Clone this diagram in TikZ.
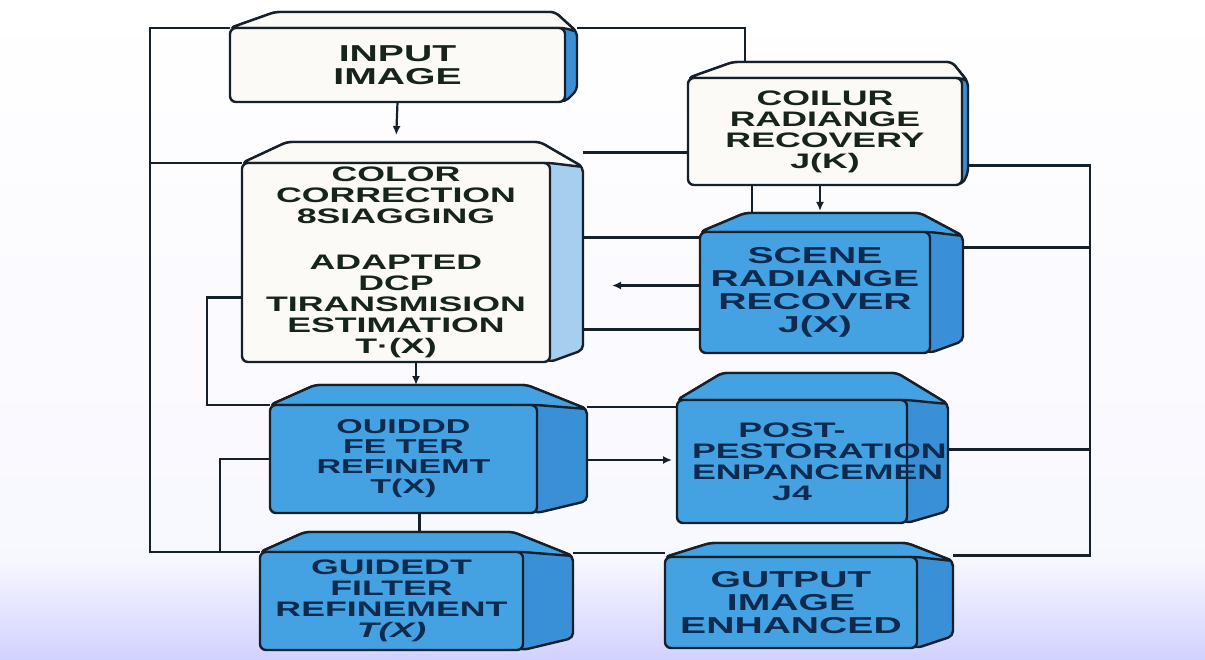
\documentclass[tikz,border=0pt]{standalone}
\usepackage{fontspec}
\usepackage{tikz}
\usetikzlibrary{arrows.meta,calc}
\newfontfamily\boxfont[FakeStretch=1.7]{Liberation Sans}

\definecolor{edge}{HTML}{16202A}
\definecolor{paperwhite}{HTML}{FBFAF7}
\definecolor{blueface}{HTML}{45A2E2}
\definecolor{blueside}{HTML}{3A90D6}
\definecolor{paleside}{HTML}{A6CEEF}
\definecolor{navy}{HTML}{0E2A4E}
\definecolor{ink}{HTML}{16241C}

\pgfdeclarelayer{bg}
\pgfdeclarelayer{background}
\pgfsetlayers{bg,background,main}

% top and side faces behind a front node: name, depth, rise, side colour, top colour
\newcommand\solid[5]{%
  \begin{pgfonlayer}{background}
    \filldraw[boxline, fill=#4] (#1.north west) -- ++(45,-#3) -- ($(#1.north east)+(-10,-#3)$)
      -- ($(#1.north east)+(#2,4)$) -- ($(#1.south east)+(#2,-12)$) -- (#1.south east) -- cycle;
    \filldraw[boxline, fill=#5] (#1.north west) -- ++(45,-#3) -- ($(#1.north east)+(-10,-#3)$)
      -- ($(#1.north east)+(#2,4)$) -- (#1.north east) -- cycle;
  \end{pgfonlayer}
  \coordinate (#1-top) at ($(#1.north)+(0,-#3)$);
  \coordinate (#1-side) at ($(#1.east)+(#2,0)$);
}

\begin{document}
\begin{tikzpicture}[
    x=1pt, y=-1pt,
    boxline/.style={draw=edge, line width=2.4pt, rounded corners=5pt},
    face/.style={draw=edge, line width=2.4pt, rounded corners=6pt, outer sep=0pt, inner sep=0pt, align=center},
    paper/.style={face, fill=paperwhite, text=ink},
    bluebox/.style={face, fill=blueface, text=navy},
    txt/.style={font=\boxfont\bfseries\fontsize{#1}{#1}\selectfont},
    wire/.style={draw=edge, line width=2.2pt},
    arrow/.style={wire, -{Latex[length=9pt,width=8pt]}}
  ]
  \useasboundingbox (0,0) rectangle (1205,660);
  \begin{pgfonlayer}{bg}
    \shade[top color=white, bottom color=black!2!blue!3] (0,0) rectangle (1205,560);
    \shade[top color=black!2!blue!3, bottom color=blue!18] (0,560) rectangle (1205,660);
  \end{pgfonlayer}

  \node[paper, txt=23, minimum width=335pt, minimum height=74pt] (input) at (397.5,65) {INPUT\\IMAGE};
  \node[paper, txt=21, minimum width=308pt, minimum height=199pt] (color) at (396,262.5)
    {COLOR\\CORRECTION\\8SIAGGING\\[25pt]ADAPTED\\DCP\\TIRANSMISION\\ESTIMATION\\T·(X)};
  \node[paper, txt=21, minimum width=274pt, minimum height=107pt] (coilur) at (825,131.5)
    {COILUR\\RADIANGE\\RECOVERY\\J(K)};
  \node[bluebox, txt=23, minimum width=230pt, minimum height=121pt] (scene) at (815,292.5)
    {SCENE\\RADIANGE\\RECOVER\\J(X)};
  \node[bluebox, txt=20, minimum width=267pt, minimum height=108pt] (guided) at (403.5,459)
    {OUIDDD\\FE TER\\REFINEMT\\T(X)};
  \node[bluebox, txt=21, minimum width=230pt, minimum height=123pt, text width=200pt] (post) at (792,461.5)
    {POST-\\PESTORATION\\ENPANCEMEN\\J4};
  \node[bluebox, txt=21, minimum width=263pt, minimum height=98pt] (guidedt) at (391.5,601)
    {GUIDEDT\\FILTER\\REFINEMENT\\\textit{T(X)}};
  \node[bluebox, txt=23, minimum width=252pt, minimum height=91pt] (output) at (791,602.5)
    {GUTPUT\\IMAGE\\ENHANCED};

  \solid{input}{12}{16}{blueside}{paperwhite}
  \solid{color}{33}{21}{paleside}{paperwhite}
  \solid{coilur}{6}{16}{blueside}{paperwhite}
  \solid{scene}{33}{19}{blueside}{blueface}
  \solid{guided}{50}{20}{blueside}{blueface}
  \solid{post}{41}{27}{blueside}{blueface}
  \solid{guidedt}{50}{20}{blueside}{blueface}
  \solid{output}{36}{14}{blueside}{blueface}

  \coordinate (wbus) at (150,300);
  \coordinate (ebus) at (1090,300);
  \coordinate (tbus) at (745,28);
  \coordinate (jog) at (207,350);
  \coordinate (jog2) at (220,500);

  % left side
  \draw[wire] (input.north west) -| (wbus) |- (guidedt.north west);
  \draw[wire] (wbus |- color.north west) -- (color.north west);
  \draw[wire] ($(color.west)+(0,35)$) -| (jog) |- (guided.north west);
  \draw[wire] (jog2 |- guidedt.north west) |- (guided.west);

  % top
  \draw[wire] (input-side |- input.north) -- (tbus) -- (tbus |- coilur-top);
  \draw[arrow, shorten >=7pt] (input.south) -- (color-top);

  % middle
  \draw[wire] ($(color-side)+(0,-110)$) coordinate (m1) -- (m1 -| coilur.west);
  \draw[wire] ($(color-side)+(0,-25)$) coordinate (m2) -- (m2 -| scene.west);
  \draw[arrow] ($(scene.west)+(0,-7)$) -- ++(-88,0);
  \draw[wire] ($(color-side)+(0,67)$) coordinate (m4) -- (m4 -| scene.west);
  \draw[wire] ($(coilur.south)+(-73,0)$) coordinate (m5) -- (m5 |- scene-top);
  \draw[arrow, shorten >=2pt] ($(coilur.south)+(-5,0)$) coordinate (m6) -- (m6 |- scene-top);
  \draw[arrow] ($(color.south)+(20,0)$) coordinate (m7) -- (m7 |- guided-top);
  \draw[wire] ($(guided-side)+(0,-52)$) coordinate (m8) -- (m8 -| post.west);
  \draw[arrow, shorten >=5pt] ($(guided-side)+(0,1)$) coordinate (m9) -- (m9 -| post.west);
  \draw[wire] ($(guided.south)+(16,0)$) coordinate (m10) -- (m10 |- guidedt-top);
  \draw[wire] ($(guidedt-side)+(0,-48)$) coordinate (m11) -- (m11 -| output.west);

  % right side
  \draw[wire] ($(coilur-side)+(0,34)$) -| (ebus) |- ($(output-side)+(0,-47)$);
  \draw[wire] ($(scene-side)+(0,-45)$) coordinate (e2) -- (e2 -| ebus);
  \draw[wire] ($(post-side)+(0,-12)$) coordinate (e3) -- (e3 -| ebus);
\end{tikzpicture}
\end{document}
